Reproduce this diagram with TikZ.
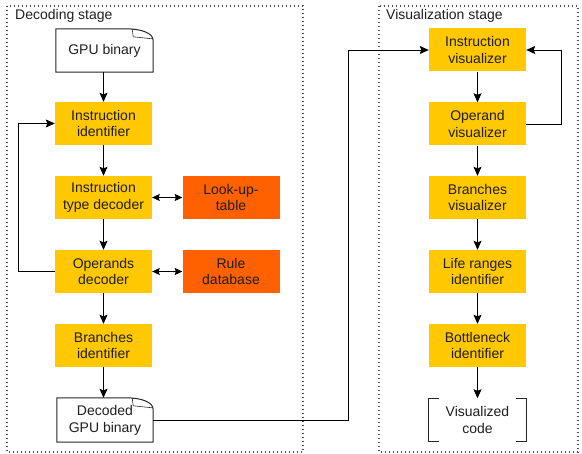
\documentclass[tikz,border=0pt]{standalone}
\usepackage{fontspec}
\setmainfont{Liberation Sans}
\usetikzlibrary{arrows.meta,calc}
\definecolor{amber}{HTML}{FFC800}
\definecolor{tangerine}{HTML}{FF6000}
\begin{document}
\begin{tikzpicture}[x=1pt,y=-1pt,
  font=\fontsize{14}{16.8}\selectfont,
  box/.style={minimum width=97pt,minimum height=43pt,inner sep=0pt,align=center,text=black!88},
  yel/.style={box,fill=amber},
  org/.style={box,fill=tangerine},
  frame/.style={draw=black!70,line width=1.1pt,dash pattern=on 1.2pt off 2.8pt},
  conn/.style={draw=black,line width=0.9pt},
  arr/.style={conn,-{Stealth[length=9pt,width=8pt,inset=1.5pt]}},
  darr/.style={conn,{Stealth[length=7.5pt,width=7pt,inset=1pt]}-{Stealth[length=7.5pt,width=7pt,inset=1pt]}},
  outline/.style={draw=black!85,line width=1pt},
]
\useasboundingbox (0,0) rectangle (582,454);

% stage frames
\draw[frame] (7,6) rectangle (303,452);
\draw[frame] (379,6) rectangle (578,452);
\node[anchor=base west,inner sep=0pt,text=black!88] (lab1) at (15,19.5) {Decoding stage};
\node[anchor=base west,inner sep=0pt,text=black!88] (lab2) at (386,19.5) {Visualization stage};

% decoding column
\node[box] (gpu) at (104.5,50.5) {GPU binary};
\node[yel] (iid) at (103.5,123.5) {Instruction\\identifier};
\node[yel] (itd) at (103.5,197.5) {Instruction\\type decoder};
\node[yel] (opd) at (103.5,271.5) {Operands\\decoder};
\node[yel] (bri) at (103.5,345.5) {Branches\\identifier};
\node[box,minimum width=96pt,minimum height=44pt] (dec) at (105,420) {Decoded\\GPU binary};
\node[org] (lut) at (231,197.5) {Look-up-\\table};
\node[org] (rdb) at (231,271.5) {Rule\\database};

% visualization column
\node[yel] (iv) at (477.5,50) {Instruction\\visualizer};
\node[yel] (ov) at (477.5,124) {Operand\\visualizer};
\node[yel] (bv) at (477.5,197.5) {Branches\\visualizer};
\node[yel] (lri) at (477.5,271.5) {Life ranges\\identifier};
\node[yel] (bni) at (477.5,345.5) {Bottleneck\\identifier};
\node[box] (vc) at (477.5,420) {Visualized\\code};

% document outlines with a folded corner
\foreach \n in {gpu,dec}{
  \draw[outline] (\n.south west) -- (\n.north west) -- ($(\n.north east)+(-28,0)$)
    .. controls ($(\n.north east)+(-12,0)$) and ($(\n.north east)+(0,4)$) .. ($(\n.north east)+(0,12)$)
    -- (\n.south east) -- cycle;
  \draw[outline,line width=0.6pt] ($(\n.north east)+(-21,0)$) -- ($(\n.north east)+(-20,8)$)
    -- ($(\n.north east)+(-1,10)$);
}

% bracket for the result
\draw[outline] ($(vc.north west)+(10,0)$) -- (vc.north west) -- (vc.south west) -- ++(10,0);
\draw[outline] ($(vc.north east)+(-10,0)$) -- (vc.north east) -- (vc.south east) -- ++(-10,0);

% flow in the decoding stage
\draw[arr] (iid.north |- gpu.south) -- (iid.north);
\draw[arr] (iid) -- (itd);
\draw[arr] (itd) -- (opd);
\draw[arr] (opd) -- (bri);
\draw[arr] (bri.south) -- (bri.south |- dec.north);
\draw[arr] (opd.west) -- ++(-36,0) |- (iid.west);
\draw[darr] (itd.east) -- (lut.west);
\draw[darr] (opd.east) -- (rdb.west);

% hand-over between stages
\draw[arr] (dec.east) -- ++(195,0) |- (iv.west);

% flow in the visualization stage
\draw[arr] (iv) -- (ov);
\draw[arr] (ov) -- (bv);
\draw[arr] (bv) -- (lri);
\draw[arr] (lri) -- (bni);
\draw[arr] (bni) -- (vc);
\draw[arr] (ov.east) -- ++(35,0) |- (iv.east);
\end{tikzpicture}
\end{document}
